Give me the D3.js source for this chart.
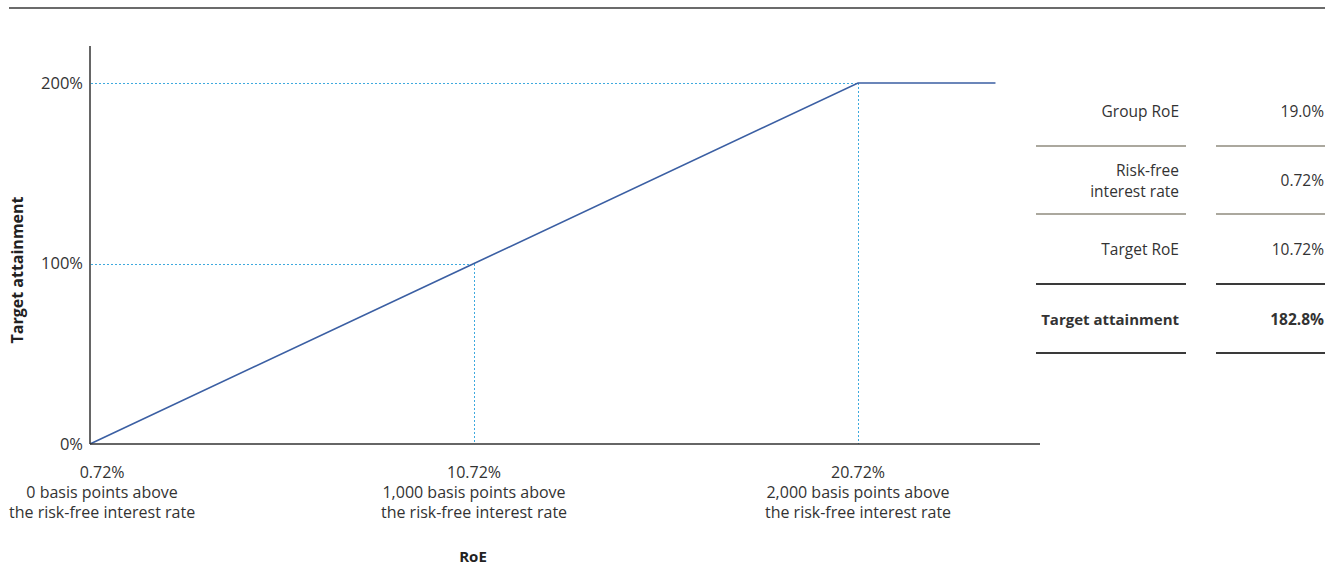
<!DOCTYPE html>
<html>
<head>
<meta charset="utf-8">
<script src="https://cdn.jsdelivr.net/npm/d3@7"></script>
<style>
  html, body { margin: 0; padding: 0; background: #fff; }
  svg { display: block; font-family: "Open Sans", "Noto Sans", sans-serif; }
</style>
</head>
<body>
<svg id="chart" width="1325" height="566"></svg>
<script>
// Payout curve: RoE (%) vs. target attainment (%)
const curveRoE = [0.72, 10.72, 20.72, 24.3];
const curveAttainment = [0, 100, 200, 200];

// Reference points marked with dotted guides
const markerRoE = [10.72, 20.72];
const markerAttainment = [100, 200];

// Axis ticks
const yTicks = [0, 100, 200];
const xTickValues = [0.72, 10.72, 20.72];
const xTickLabels = [
  ["0.72%", "0 basis points above", "the risk-free interest rate"],
  ["10.72%", "1,000 basis points above", "the risk-free interest rate"],
  ["20.72%", "2,000 basis points above", "the risk-free interest rate"]
];

// Side table
const tableLabels = [["Group RoE"], ["Risk-free", "interest rate"], ["Target RoE"], ["Target attainment"]];
const tableValues = ["19.0%", "0.72%", "10.72%", "182.8%"];
const tableBold = [false, false, false, true];
const tableRuleDark = [false, false, true, true];

const svg = d3.select("#chart");
const textColor = "#333";

// Top rule
svg.append("line")
  .attr("x1", 9).attr("x2", 1325).attr("y1", 8).attr("y2", 8)
  .attr("stroke", "#3a3a3a").attr("stroke-width", 1.5);

const x = d3.scaleLinear().domain([0.72, 20.72]).range([90, 858]);
const y = d3.scaleLinear().domain([0, 200]).range([444, 83]);
const px = v => Math.round(v) + 0.5;

// Dotted guides
const guides = svg.append("g")
  .attr("stroke", "#3ea9de").attr("stroke-width", 1.5)
  .attr("stroke-dasharray", "2,2").attr("fill", "none")
  .attr("shape-rendering", "crispEdges");
markerRoE.forEach((r, i) => {
  guides.append("line")
    .attr("x1", x(0.72) + 1).attr("x2", x(r))
    .attr("y1", px(y(markerAttainment[i]))).attr("y2", px(y(markerAttainment[i])));
  guides.append("line")
    .attr("x1", px(x(r))).attr("x2", px(x(r)))
    .attr("y1", y(markerAttainment[i])).attr("y2", y(0));
});

// Payout line
const pts = curveRoE.map((r, i) => [r, curveAttainment[i]]);
svg.append("path")
  .datum(pts)
  .attr("d", d3.line().x(d => x(d[0])).y(d => y(d[1])))
  .attr("fill", "none").attr("stroke", "#3b5fa3").attr("stroke-width", 1.6);

// Axes
svg.append("line")
  .attr("x1", 90).attr("x2", 90).attr("y1", 46).attr("y2", 444)
  .attr("stroke", "#333").attr("stroke-width", 1.5);
svg.append("line")
  .attr("x1", 90).attr("x2", 1040).attr("y1", 444).attr("y2", 444)
  .attr("stroke", "#333").attr("stroke-width", 1.5);

// Y tick labels
svg.append("g").selectAll("text")
  .data(yTicks).join("text")
  .attr("x", 83).attr("y", d => y(d)).attr("dy", "0.35em")
  .attr("text-anchor", "end").attr("font-size", 16.5).attr("fill", textColor)
  .text(d => d + "%");

// X tick labels: centred under each value, nudged right if it would leave the canvas
const xl = svg.append("g").selectAll("text")
  .data(xTickValues).join("text")
  .attr("text-anchor", "middle").attr("font-size", 16).attr("fill", textColor);
xl.each(function(d, i) {
  const t = d3.select(this);
  const spans = xTickLabels[i].map((line, j) =>
    t.append("tspan").attr("y", 478 + j * 20).text(line));
  const widest = d3.max(spans, s => s.node().getComputedTextLength());
  const cx = Math.max(x(d), widest / 2 + 9);
  spans.forEach(s => s.attr("x", cx));
});

// Axis titles
svg.append("text")
  .attr("x", 473).attr("y", 562).attr("text-anchor", "middle")
  .attr("font-size", 15).attr("font-weight", "bold").attr("fill", "#222")
  .text("RoE");
svg.append("text")
  .attr("transform", "translate(23,270) rotate(-90)")
  .attr("text-anchor", "middle")
  .attr("font-size", 16).attr("font-weight", "bold").attr("fill", "#222")
  .text("Target attainment");

// Side table
const rowCenters = [112, 181, 250, 320];
const ruleYs = [146, 214, 284, 353];
const table = svg.append("g");
tableLabels.forEach((lines, i) => {
  const t = table.append("text")
    .attr("text-anchor", "end").attr("font-size", tableBold[i] ? 15 : 15.5)
    .attr("font-weight", tableBold[i] ? "bold" : "normal").attr("fill", textColor);
  lines.forEach((line, j) => {
    t.append("tspan").attr("x", 1179)
      .attr("y", rowCenters[i] + (j - (lines.length - 1) / 2) * 21)
      .attr("dy", "0.35em").text(line);
  });
  table.append("text")
    .attr("x", 1324).attr("y", rowCenters[i]).attr("dy", "0.35em")
    .attr("text-anchor", "end").attr("font-size", 15.5)
    .attr("font-weight", tableBold[i] ? "bold" : "normal").attr("fill", textColor)
    .text(tableValues[i]);
  const rc = tableRuleDark[i] ? "#3a3a3a" : "#aba89e";
  table.append("line").attr("x1", 1036).attr("x2", 1186)
    .attr("y1", ruleYs[i]).attr("y2", ruleYs[i]).attr("stroke", rc).attr("stroke-width", 1.8);
  table.append("line").attr("x1", 1216).attr("x2", 1325)
    .attr("y1", ruleYs[i]).attr("y2", ruleYs[i]).attr("stroke", rc).attr("stroke-width", 1.8);
});
</script>
</body>
</html>
